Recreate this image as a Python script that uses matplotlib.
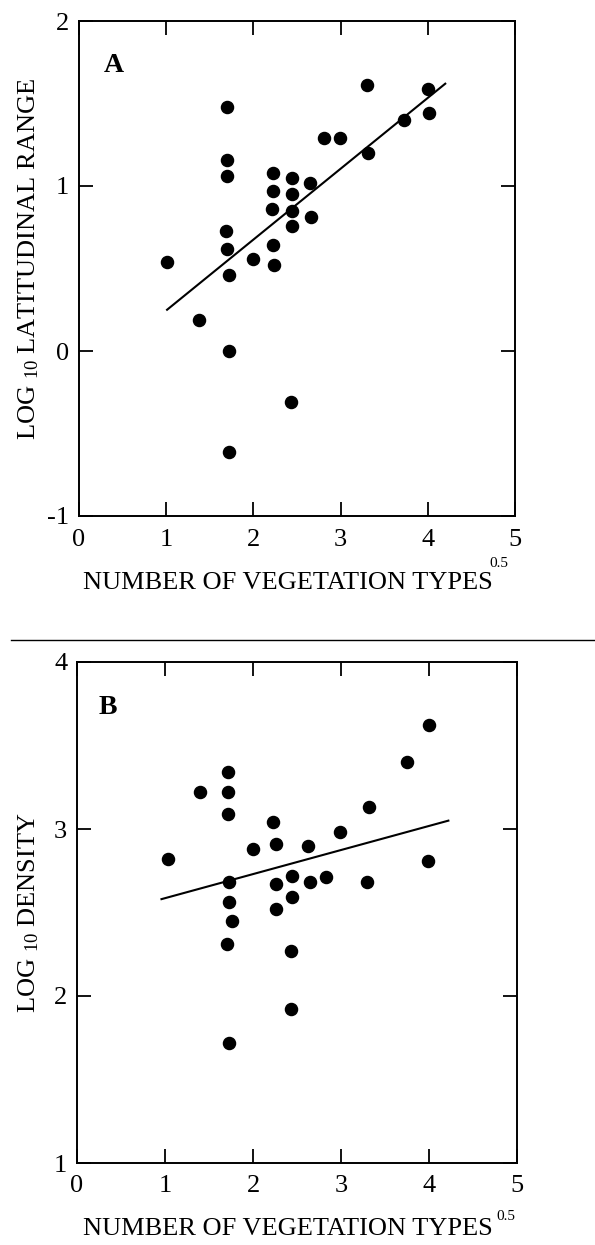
import matplotlib.pyplot as plt
import matplotlib.lines as mlines

plt.rcParams['font.family'] = ['Liberation Serif', 'DejaVu Serif']
plt.rcParams['mathtext.fontset'] = 'custom'
plt.rcParams['mathtext.rm'] = 'Liberation Serif'
plt.rcParams['mathtext.it'] = 'Liberation Serif'
plt.rcParams['axes.unicode_minus'] = False

# panel A: latitudinal range vs sqrt(number of vegetation types)
range_x = [1.01, 1.38, 1.70, 1.70, 1.70, 1.69, 1.70, 1.72, 1.72, 1.72,
           2.00, 2.22, 2.22, 2.21, 2.22, 2.24, 2.44, 2.44, 2.44, 2.44,
           2.43, 2.65, 2.66, 2.81, 2.99, 3.30, 3.31, 3.73, 4.00, 4.01]
range_y = [0.54, 0.19, 1.48, 1.16, 1.06, 0.73, 0.62, 0.46, 0.00, -0.61,
           0.56, 1.08, 0.97, 0.86, 0.64, 0.52, 1.05, 0.95, 0.85, 0.76,
           -0.31, 1.02, 0.81, 1.29, 1.29, 1.61, 1.20, 1.40, 1.59, 1.44]
range_fit_x = [1.01, 4.20]
range_fit_y = [0.25, 1.62]

# panel B: density vs sqrt(number of vegetation types)
dens_x = [1.03, 1.40, 1.72, 1.72, 1.72, 1.73, 1.73, 1.76, 1.71, 1.73,
          2.00, 2.23, 2.26, 2.26, 2.26, 2.44, 2.44, 2.43, 2.43, 2.62,
          2.65, 2.83, 2.99, 3.30, 3.32, 3.75, 4.00, 3.99]
dens_y = [2.82, 3.22, 3.34, 3.22, 3.09, 2.68, 2.56, 2.45, 2.31, 1.72,
          2.88, 3.04, 2.91, 2.67, 2.52, 2.72, 2.59, 2.27, 1.92, 2.90,
          2.68, 2.71, 2.98, 2.68, 3.13, 3.40, 3.62, 2.81]
dens_fit_x = [0.96, 4.22]
dens_fit_y = [2.58, 3.05]

xlabel = 'NUMBER OF VEGETATION TYPES'
xticks = [0, 1, 2, 3, 4, 5]


def style_axes(ax, ylim, yticks):
    ax.set_xlim(0, 5)
    ax.set_ylim(*ylim)
    ax.set_xticks(xticks)
    ax.set_yticks(yticks)
    ax.tick_params(direction='in', length=10, width=1.3, labelsize=19,
                   top=True, right=True, pad=7)
    ax.tick_params(axis='x', pad=9)
    for s in ax.spines.values():
        s.set_linewidth(1.4)


fig = plt.figure(figsize=(5.95, 12.45), dpi=100)

# ---- panel A
ax1 = fig.add_axes([79 / 595, 1 - 516 / 1245, 436 / 595, 495 / 1245])
ax1.plot(range_x, range_y, 'o', color='black', markersize=8.7)
ax1.plot(range_fit_x, range_fit_y, color='black', linewidth=1.5)
style_axes(ax1, (-1, 2), [-1, 0, 1, 2])
ax1.set_ylabel(r'LOG $_{\mathregular{10}}$ LATITUDINAL RANGE', fontsize=19)
ax1.yaxis.set_label_coords(-0.088, 0.52)
ax1.set_xlabel(xlabel, fontsize=19)
ax1.xaxis.set_label_coords(0.48, -0.113)
ax1.text(0.962, -0.095, '0.5', transform=ax1.transAxes, fontsize=11,
         ha='center', va='center')
ax1.text(0.08, 0.91, 'A', transform=ax1.transAxes, fontsize=20,
         fontweight='bold', ha='center', va='center')

# ---- panel B
ax2 = fig.add_axes([77 / 595, 1 - 1163 / 1245, 440 / 595, 501 / 1245])
ax2.plot(dens_x, dens_y, 'o', color='black', markersize=8.7)
ax2.plot(dens_fit_x, dens_fit_y, color='black', linewidth=1.5)
style_axes(ax2, (1, 4), [1, 2, 3, 4])
ax2.set_ylabel(r'LOG $_{\mathregular{10}}$ DENSITY', fontsize=19)
ax2.yaxis.set_label_coords(-0.082, 0.5)
ax2.set_xlabel(xlabel, fontsize=19)
ax2.xaxis.set_label_coords(0.48, -0.11)
ax2.text(0.975, -0.107, '0.5', transform=ax2.transAxes, fontsize=11,
         ha='center', va='center')
ax2.text(0.07, 0.91, 'B', transform=ax2.transAxes, fontsize=20,
         fontweight='bold', ha='center', va='center')

# separator between the panels
fig.add_artist(mlines.Line2D([11 / 595, 1], [1 - 640 / 1245, 1 - 640 / 1245],
                             color='black', linewidth=1))

fig.savefig('out.png', dpi=100)
